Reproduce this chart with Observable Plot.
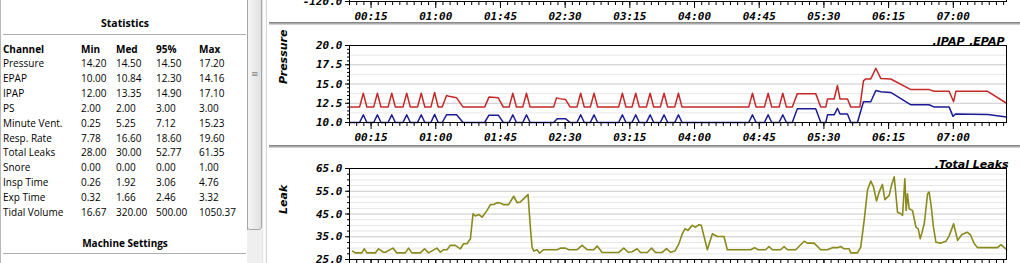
<!DOCTYPE html>
<html><head><meta charset="utf-8">
<script src="https://cdn.jsdelivr.net/npm/d3@7"></script>
<script src="https://cdn.jsdelivr.net/npm/@observablehq/plot@0.6"></script>
<style>
html,body{margin:0;padding:0;background:#fff;}
#wrap{position:relative;width:1020px;height:263px;overflow:hidden;background:#fff;}
.abs{position:absolute;}
#left{left:0;top:0;width:248px;height:263px;border-left:1px solid #b8b8b8;border-right:1px solid #a8a8a8;box-sizing:border-box;font-family:"Open Sans",sans-serif;font-size:10px;color:#000;background:#fff;}
.cell{position:absolute;white-space:nowrap;line-height:12px;}
.b{font-weight:bold;}
.hline{position:absolute;height:1px;background:#b0b0b0;}
.sep{position:absolute;left:269px;width:751px;height:3px;background:linear-gradient(#7a7a7a,#a8a8a8 50%,#e4e4e4);}
</style>
</head><body><div id="wrap">
<div id="left" class="abs"></div>
<div class="abs" style="left:247px;top:230px;width:15px;height:33px;background:#efefef;"></div>
<div class="abs" style="left:247px;top:-3px;width:15px;height:233px;background:linear-gradient(to right,#f6f6f6,#e0e0e0);border:1px solid #a6a6a6;border-radius:3px;box-sizing:border-box;"></div>
<div class="abs" style="left:251px;top:69px;font:9px 'DejaVu Sans';color:#8a8a8a;">≡</div>
<div class="abs" style="left:262px;top:0;width:5px;height:263px;background:#fafafa;border-left:1px solid #e6e6e6;border-right:1px solid #d4d4d4;box-sizing:border-box;"></div>
<div class="sep" style="top:22px;"></div>
<div class="sep" style="top:145px;"></div>
<div id="ctop" class="abs" style="left:268px;top:-40px;"></div>
<div id="cpress" class="abs" style="left:268px;top:24px;"></div>
<div id="cleak" class="abs" style="left:268px;top:148px;"></div>
</div>
<script>
// ---- statistics table ----
const statHeaders = ["Channel","Min","Med","95%","Max"];
const statChannels = ["Pressure","EPAP","IPAP","PS","Minute Vent.","Resp. Rate","Total Leaks","Snore","Insp Time","Exp Time","Tidal Volume"];
const statMin = ["14.20","10.00","12.00","2.00","0.25","7.78","28.00","0.00","0.26","0.32","16.67"];
const statMed = ["14.50","10.84","13.35","2.00","5.25","16.60","30.00","0.00","1.92","1.66","320.00"];
const stat95  = ["14.50","12.30","14.90","3.00","7.12","18.60","52.77","0.00","3.06","2.46","500.00"];
const statMax = ["17.20","14.16","17.10","3.00","15.23","19.60","61.35","1.00","4.76","3.32","1050.37"];

// ---- time axis ----
const timeTicks = [15,60,105,150,195,240,285,330,375,420];
const timeTickLabels = ["00:15","01:00","01:45","02:30","03:15","04:00","04:45","05:30","06:15","07:00"];

// ---- pressure chart (minutes since 00:00, cmH2O) ----
const pressureTicks = [10,12.5,15,17.5,20];
const ipapPoints = [[0,12],
[7,12],[9.6,13.8],[12.1,12],[16.8,12],[19.4,13.8],[21.9,12],[26.8,12],[29.4,13.8],[31.9,12],
[37.2,12],[39.8,13.8],[42.3,12],[47.3,12],[49.9,13.8],[52.4,12],[56.6,12],[59.2,13.9],[61.7,12],
[64.5,12],[67.5,13.5],[69,13.4],[74.5,13.2],[79,12],
[94,12],[97,13.3],[103.5,13.2],[107,12],
[111,12],[113.6,13.8],[116.1,12],[120.5,12],[123.1,13.8],[125.6,12],
[142,12],[144,13.2],[146,13.1],[150.2,13],[153.5,12],
[158.2,12],[160.8,13.8],[163.3,12],[167.5,12],[170.1,13.8],[172.6,12],
[187.2,12],[189.8,13.8],[192.3,12],[196.5,12],[199.1,13.8],[201.6,12],[206.5,12],[209.1,13.8],[211.6,12],
[216.2,12],[218.8,13.8],[221.3,12],[226.2,12],[228.8,13.8],[231.3,12],
[277.7,12],[280.3,13.8],[282.8,12],[288.6,12],[291.2,13.8],[293.7,12],[298.8,12],[301.4,13.8],[303.9,12],
[308,12],[311.5,13.75],[324.3,13.75],[327.8,12],[331.3,12],[332.5,13.05],[337.1,13.05],[339.4,14.8],[341.2,13.05],
[346.4,13.05],[348.7,12],[355,12],[357.5,15.4],[359.1,15.66],[362.6,15.66],[366.1,17.05],[369.6,15.7],[376.5,15.65],
[390.5,14.27],[403.2,14.27],[406.7,14.05],[417.1,14.05],[420.2,12.7],[421.8,14.05],[443.9,14.05],[457,12.5]];
const epapPoints = [[0,10],
[7,10],[9.6,11],[12.1,10],[16.8,10],[19.4,11],[21.9,10],[26.8,10],[29.4,11],[31.9,10],
[37.2,10],[39.8,11],[42.3,10],[47.3,10],[49.9,11],[52.4,10],[56.6,10],[59.2,11.05],[61.7,10],
[64.5,10],[67.5,11],[74.5,11],[79,10],
[94,10],[97,10.95],[103.5,10.95],[107,10],
[111,10],[113.6,11],[116.1,10],[120.5,10],[123.1,11],[125.6,10],
[142,10],[144.5,10.5],[150.2,10.5],[153.5,10],
[158.2,10],[160.8,11],[163.3,10],[167.5,10],[170.1,11],[172.6,10],
[187.2,10],[189.8,11],[192.3,10],[196.5,10],[199.1,11],[201.6,10],[206.5,10],[209.1,11],[211.6,10],
[216.2,10],[218.8,11],[221.3,10],[226.2,10],[228.8,11],[231.3,10],
[277.7,10],[280.3,11],[282.8,10],[288.6,10],[291.2,11],[293.7,10],[298.8,10],[301.4,11],[303.9,10],
[308,10],[311.5,11.8],[324.3,11.8],[327.8,10],[331.3,10],[332.5,11],[337.1,11],[339.4,11.85],[341.2,11.1],
[346.4,11.1],[348.7,10],[353.3,10],[357.5,12.7],[362.6,12.7],[366.1,14.15],[369.6,14],[376.5,13.9],
[390.5,12.3],[403.2,12.3],[406.7,12],[417.1,12],[419.8,10.8],[421.5,11.1],[443.9,11.05],[457,10.7]];
const pressureGridMajor = [12.5,15,17.5];
const pressureGridMinor = [11.25,13.75,16.25,18.75];

// ---- leak chart (L/min) ----
const leakTicks = [25,35,45,55,65];
const leakPoints = [[2.1,28.7],[4,27.9],[8.6,27.9],[10.2,29.7],[12.1,27.9],[17.9,27.9],[20.2,29.7],[23.7,28.2],[24.9,28.2],
[30.2,30],[33,27.9],[38.8,27.9],[41.1,30],[43.4,27.9],[49.2,27.9],[52.2,29.7],[55,27.9],[60.8,30],[63.2,28.2],
[65.5,29.3],[67.8,29.3],[70.1,31.2],[73.6,31.2],[77.1,29.7],[79.4,31.9],[81.7,31.9],[84.1,34.1],[85.9,45.1],
[87.5,44.1],[89.9,44.8],[92.2,43.6],[95.7,46.6],[98,49.1],[100.3,49.2],[102.6,50],[104.9,49.8],[107.3,49.1],
[110.7,49.1],[114.2,52.8],[116.6,50],[118.9,50.3],[124.2,53.5],[125.8,39.2],[127,30.4],[128.2,28.7],[130.5,29.3],
[132.1,27.8],[135.1,29.3],[144.4,29.3],[146.7,30],[150.2,30],[152.5,29.3],[158.3,29.3],[161.8,31.2],[165.3,29.3],
[169.9,29.3],[172.3,30.9],[175.7,28.1],[187.3,28.1],[190.8,30],[193.9,28.2],[196.6,28.4],[200.1,29.7],[202.4,28.1],
[207.1,28.1],[210.1,30],[212.9,28.1],[217.5,28.1],[220.5,29.8],[223.3,28.2],[226.3,28.7],[229.1,31.9],[231.5,36.3],
[233.3,38.5],[235.4,37.8],[238.4,40],[240.7,39.2],[243.1,40.3],[244.7,40],[248.9,29.3],[252.4,36.3],[255.8,35.1],
[260.5,35.1],[262.8,29.3],[279,29.3],[281.8,30.2],[284.2,29.3],[289.5,29.3],[291.8,30.7],[294.1,29.3],[299.9,29.3],
[302.3,30.7],[304.6,29.3],[310.4,29.3],[316.2,33],[318.5,32.2],[323.2,32.2],[327.8,29.3],[332.4,29.3],[335.9,30.2],
[339.4,30.2],[341.7,30.7],[344,29.7],[347.5,29.7],[348.7,27.9],[353.3,27.9],[355.6,30.4],[358,42.2],[360.3,55.4],
[362.6,59.5],[364.5,56.9],[366.6,50.7],[368.4,54.6],[370.7,58],[372.4,51.3],[375.4,53.2],[377,57.6],[378.9,61.35],
[380,53.9],[381.2,45.8],[383.5,45.1],[384.7,44.4],[386.3,60.5],[387.2,46.6],[388.1,53.9],[389.3,47.3],[391.6,46.6],
[394,39.2],[395.6,38.5],[397,34.1],[398.6,37.8],[399.8,40.7],[402.1,53.9],[403.2,54.6],[404.4,49.5],[406.2,39.2],
[407.9,32.6],[411.4,32.2],[414.8,33],[417.2,35.5],[420.2,40.7],[423,33.4],[426,36],[429.5,37],[431.8,36],
[434.6,31.9],[436.9,30.2],[450.8,30.2],[453.1,31.5],[455.5,30.2],[457,29.5]];
const leakGridMajor = [35,45,55];
const leakGridMinor = [27.5,30,32.5,37.5,40,42.5,47.5,50,52.5,57.5,60,62.5];

// ---- build statistics panel ----
const left = document.getElementById("left");
function cell(txt, x, yc, cls) {
  const d = document.createElement("div");
  d.className = "cell" + (cls ? " " + cls : "");
  d.textContent = txt;
  d.style.left = x + "px";
  d.style.top = (yc - 6) + "px";
  left.appendChild(d);
  return d;
}
const t1 = cell("Statistics", 0, 23, "b"); t1.style.width = "248px"; t1.style.textAlign = "center"; t1.style.fontSize = "10.5px";
const hl = document.createElement("div"); hl.className = "hline"; hl.style.left = "2px"; hl.style.width = "243px"; hl.style.top = "34px"; left.appendChild(hl);
const statCols = [3, 81, 116, 156, 199];
statHeaders.forEach((h, i) => cell(h, statCols[i] - 1, 49, "b"));
statChannels.forEach((c, r) => {
  const y = 63 + r * 14.9;
  [c, statMin[r], statMed[r], stat95[r], statMax[r]].forEach((v, i) => cell(v, statCols[i] - 1, y));
});
const t2 = cell("Machine Settings", 0, 242.5, "b"); t2.style.width = "248px"; t2.style.textAlign = "center";
const hl2 = document.createElement("div"); hl2.className = "hline"; hl2.style.left = "2px"; hl2.style.width = "243px"; hl2.style.top = "253px"; left.appendChild(hl2);

// ---- charts ----
const xDomain = [0, 457];
const chartW = 752, mL = 81, mR = 14;
const chartStyle = {background: "transparent", fontFamily: "'DejaVu Sans Mono', monospace", fontSize: "11px", fontWeight: "bold", fontStyle: "italic", color: "#000", overflow: "visible"};
const minorX = d3.range(0, 457, 5);
function xAxes() {
  return [
    Plot.axisX({ticks: minorX, tickSize: 4, tickFormat: () => "", label: null}),
    Plot.axisX({ticks: timeTicks, tickSize: 7, tickPadding: 4, tickFormat: d => timeTickLabels[timeTicks.indexOf(d)], label: null})
  ];
}
const lbl = {fontFamily: "'DejaVu Sans', sans-serif", fontSize: 11, fontWeight: "bold", fontStyle: "italic", fill: "#000"};
const toObj = a => a.map(([t, v]) => ({t, v}));

document.getElementById("ctop").appendChild(Plot.plot({
  width: chartW, height: 62, marginLeft: mL, marginRight: mR, marginTop: 10, marginBottom: 21,
  x: {domain: xDomain}, y: {domain: [-120, 0]}, style: chartStyle,
  marks: [
    Plot.frame({stroke: "#000"}),
    Plot.axisY({ticks: [-120], tickSize: 4, tickPadding: 3, tickFormat: d => d.toFixed(1), label: null}),
    ...xAxes()
  ]
}));

document.getElementById("cpress").appendChild(Plot.plot({
  width: chartW, height: 121, marginLeft: mL, marginRight: mR, marginTop: 21, marginBottom: 23,
  x: {domain: xDomain}, y: {domain: [10, 20]}, style: chartStyle,
  marks: [
    Plot.ruleY(pressureGridMinor, {stroke: "#e8e8e8"}),
    Plot.ruleY(pressureGridMajor, {stroke: "#c8c8c8"}),
    Plot.line(toObj(epapPoints), {x: "t", y: "v", stroke: "#1c1c96", strokeWidth: 1.5}),
    Plot.line(toObj(ipapPoints), {x: "t", y: "v", stroke: "#c62828", strokeWidth: 1.5}),
    Plot.frame({stroke: "#000"}),
    Plot.axisY({ticks: d3.range(10, 20.01, 0.5), tickSize: 2, tickFormat: () => "", label: null}),
    Plot.axisY({ticks: pressureTicks, tickSize: 4, tickPadding: 3, tickFormat: d => d.toFixed(1), label: null}),
    ...xAxes(),
    Plot.text(["Pressure"], {frameAnchor: "left", dx: -66, rotate: -90, text: d => d, ...lbl}),
    Plot.text([".EPAP"], {frameAnchor: "top-right", dx: -2, dy: -8, textAnchor: "end", text: d => d, ...lbl}),
    Plot.text([".IPAP"], {frameAnchor: "top-right", dx: -42, dy: -8, textAnchor: "end", text: d => d, ...lbl})
  ]
}));

document.getElementById("cleak").appendChild(Plot.plot({
  width: chartW, height: 115, marginLeft: mL, marginRight: mR, marginTop: 20, marginBottom: 4,
  x: {domain: xDomain}, y: {domain: [25, 65]}, style: chartStyle,
  marks: [
    Plot.ruleY(leakGridMinor, {stroke: "#e6e6e6"}),
    Plot.ruleY(leakGridMajor, {stroke: "#c8c8c8"}),
    Plot.line(toObj(leakPoints), {x: "t", y: "v", stroke: "#8a8a1c", strokeWidth: 1.6}),
    Plot.frame({stroke: "#000"}),
    Plot.axisY({ticks: d3.range(25, 65.1, 2.5), tickSize: 2, tickFormat: () => "", label: null}),
    Plot.axisY({ticks: leakTicks, tickSize: 4, tickPadding: 3, tickFormat: d => d.toFixed(1), label: null}),
    Plot.axisX({ticks: minorX, tickSize: 4, tickFormat: () => "", label: null}),
    Plot.axisX({ticks: timeTicks, tickSize: 7, tickFormat: () => "", label: null}),
    Plot.text(["Leak"], {frameAnchor: "left", dx: -66, rotate: -90, text: d => d, ...lbl}),
    Plot.text([".Total Leaks"], {frameAnchor: "top-right", dx: 2, dy: -8, textAnchor: "end", text: d => d, ...lbl})
  ]
}));
</script>
</body></html>
